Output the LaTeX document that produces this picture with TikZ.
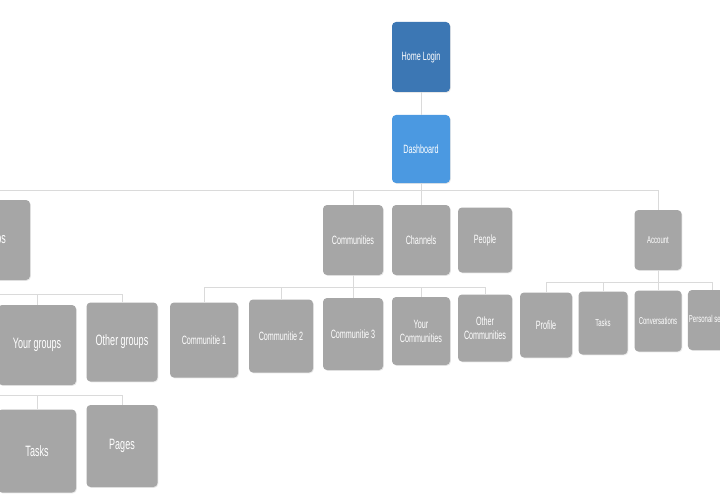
\documentclass[tikz,border=0pt]{standalone}
\usepackage{fontspec}
\usepackage{xcolor}
\usepackage{tikz}
\usetikzlibrary{shadows}
\newfontfamily\boxfont{Liberation Sans}[FakeStretch=0.6]

\definecolor{homeblue}{HTML}{3C77B4}
\definecolor{dashblue}{HTML}{4B99E1}
\definecolor{pagegray}{HTML}{A6A6A6}
\definecolor{linkgray}{HTML}{DADADA}

\begin{document}
\begin{tikzpicture}[
  x=1pt, y=-1pt,
  box/.style={fill=pagegray, rounded corners=4pt, text=white,
              align=center, inner sep=1pt,
              drop shadow={opacity=0.18, shadow xshift=0.8pt, shadow yshift=-0.8pt}},
  txtL/.style={font=\boxfont\fontsize{15}{16}\selectfont},
  txtM/.style={font=\boxfont\fontsize{12}{14}\selectfont},
  txtS/.style={font=\boxfont\fontsize{10}{12}\selectfont},
  link/.style={draw=linkgray, line width=0.8pt}
]
\useasboundingbox (0,0) rectangle (720,500);
\fill[white] (0,0) rectangle (720,500);
\clip (0,0) rectangle (720,500);

% top of the site
\node[box, txtM, fill=homeblue, minimum width=58, minimum height=70] (home) at (421,57) {Home Login};
\node[box, txtM, fill=dashblue, minimum width=58, minimum height=68] (dash) at (421,149) {Dashboard};

% main sections
\node[box, txtL, minimum width=78, minimum height=80] (groups)  at (-9,240) {Groups};
\node[box, txtM, minimum width=60, minimum height=70] (comm)    at (353,240) {Communities};
\node[box, txtM, minimum width=58, minimum height=70] (chan)    at (421,240) {Channels};
\node[box, txtM, minimum width=54, minimum height=65] (people)  at (485,240) {People};
\node[box, txtS, minimum width=47, minimum height=60] (account) at (658,240) {Account};

% groups
\node[box, txtL, minimum width=78, minimum height=80] (yourgr)  at (37,345)  {Your groups};
\node[box, txtL, minimum width=71, minimum height=79] (othergr) at (122,342) {Other groups};
\node[box, txtL, minimum width=78, minimum height=83] (tasksg)  at (37,451)  {Tasks};
\node[box, txtL, minimum width=71, minimum height=82] (pages)   at (122,446) {Pages};

% communities
\node[box, txtM, minimum width=68, minimum height=75] (comone)   at (204,340) {Communitie 1};
\node[box, txtM, minimum width=64, minimum height=73] (comtwo)   at (281,336) {Communitie 2};
\node[box, txtM, minimum width=60, minimum height=72] (comthree) at (353,334) {Communitie 3};
\node[box, txtM, minimum width=58, minimum height=68] (yourcom)  at (421,331) {Your\\Communities};
\node[box, txtM, minimum width=54, minimum height=67] (othercom) at (485,328) {Other\\Communities};

% account
\node[box, txtM, minimum width=52, minimum height=65] (profile) at (546,325) {Profile};
\node[box, txtS, minimum width=49, minimum height=63] (tasksa)  at (603,323) {Tasks};
\node[box, txtS, minimum width=47, minimum height=61] (conv)    at (658,321) {Conversations};
\node[box, txtS, minimum width=48, minimum height=60] (perset)  at (712,320) {Personal settings};

% connectors
\coordinate (mainbus)  at (421,190);
\coordinate (grbusA)   at (-9,294);
\coordinate (grbusB)   at (-9,395);
\coordinate (combus)   at (353,287);
\coordinate (accbus)   at (658,282);

\draw[link] (home) -- (dash);
\draw[link] (dash) -- (mainbus) -| (groups.north);
\draw[link] (mainbus) -- (chan);
\draw[link] (mainbus) -| (comm.north);
\draw[link] (mainbus) -| (account.north);

\draw[link] (groups.south) -- (grbusA) -- (grbusB);
\draw[link] (grbusA) -| (yourgr.north);
\draw[link] (grbusA) -| (othergr.north);
\draw[link] (grbusB) -| (tasksg.north);
\draw[link] (grbusB) -| (pages.north);

\draw[link] (comm) -- (combus);
\draw[link] (combus) -| (comone.north);
\draw[link] (combus) -| (comtwo.north);
\draw[link] (combus) -- (comthree);
\draw[link] (combus) -| (yourcom.north);
\draw[link] (combus) -| (othercom.north);

\draw[link] (account) -- (accbus);
\draw[link] (accbus) -| (profile.north);
\draw[link] (accbus) -| (tasksa.north);
\draw[link] (accbus) -- (conv);
\draw[link] (accbus) -| (perset.north);
\end{tikzpicture}
\end{document}
